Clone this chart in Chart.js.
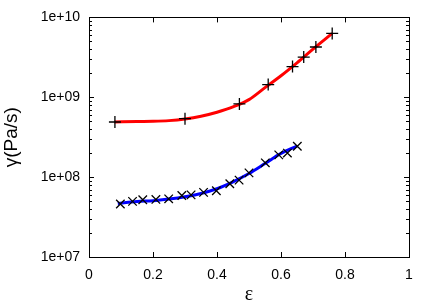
<!DOCTYPE html>
<html>
<head>
<meta charset="utf-8">
<script src="https://cdn.jsdelivr.net/npm/chart.js@4"></script>
<style>
  html, body { margin: 0; padding: 0; background: #fff; }
  #wrap { width: 436px; height: 305px; position: relative; }
</style>
</head>
<body>
<div id="wrap"><canvas id="c"></canvas></div>
<script>
// measured points (+ markers, upper set)
const redX = [0.081, 0.30, 0.47, 0.56, 0.636, 0.671, 0.709, 0.76];
const redY = [4.9e8, 5.4e8, 8.25e8, 1.44e9, 2.42e9, 3.19e9, 4.26e9, 6.3e9];
// measured points (x markers, lower set)
const blueX = [0.098, 0.136, 0.168, 0.209, 0.249, 0.29, 0.319, 0.358, 0.398, 0.44, 0.469, 0.50, 0.551, 0.593, 0.62, 0.651];
const blueY = [4.6e7, 4.97e7, 5.2e7, 5.26e7, 5.35e7, 5.9e7, 6.0e7, 6.44e7, 6.74e7, 8.25e7, 9.17e7, 1.13e8, 1.51e8, 1.9e8, 2.0e8, 2.44e8];
// fitted curves
const redFitX = [0.08, 0.15, 0.2, 0.25, 0.3, 0.35, 0.4, 0.45, 0.5, 0.55, 0.6, 0.65, 0.7, 0.76];
const redFitY = [4.9e8, 4.97e8, 5.0e8, 5.1e8, 5.35e8, 5.79e8, 6.5e8, 7.57e8, 9.35e8, 1.32e9, 1.86e9, 2.7e9, 4.0e9, 6.3e9];
const blueFitX = [0.09, 0.15, 0.2, 0.25, 0.3, 0.35, 0.4, 0.45, 0.5, 0.55, 0.6, 0.65];
const blueFitY = [4.69e7, 4.97e7, 5.06e7, 5.31e7, 5.68e7, 6.25e7, 7.15e7, 8.73e7, 1.11e8, 1.48e8, 1.98e8, 2.45e8];
// axes
const xTicks = [0, 0.2, 0.4, 0.6, 0.8, 1];
const yTicks = [1e7, 1e8, 1e9, 1e10];
const yTickLabels = ['1e+07', '1e+08', '1e+09', '1e+10'];
const yMinor = [2, 3, 4, 5, 6, 7, 8, 9];

const pts = (xs, ys) => xs.map((x, i) => ({ x: x, y: ys[i] }));

// gnuplot-like frame with inward ticks on all four sides
const framePlugin = {
    id: 'frame',
    afterDraw(chart) {
        const ctx = chart.ctx, a = chart.chartArea;
        const xs = chart.scales.x, ys = chart.scales.y;
        ctx.save();
        ctx.strokeStyle = '#000';
        ctx.lineWidth = 1;
        ctx.beginPath();
        for (const v of xTicks) {
            const px = Math.round(xs.getPixelForValue(v)) + 0.5;
            ctx.moveTo(px, a.bottom); ctx.lineTo(px, a.bottom - 5);
            ctx.moveTo(px, a.top); ctx.lineTo(px, a.top + 5);
        }
        for (let d = 0; d < yTicks.length; d++) {
            const py = Math.round(ys.getPixelForValue(yTicks[d])) + 0.5;
            ctx.moveTo(a.left, py); ctx.lineTo(a.left + 5, py);
            ctx.moveTo(a.right, py); ctx.lineTo(a.right - 5, py);
            if (d === yTicks.length - 1) break;
            for (const m of yMinor) {
                const my = Math.round(ys.getPixelForValue(yTicks[d] * m)) + 0.5;
                ctx.moveTo(a.left, my); ctx.lineTo(a.left + 3, my);
                ctx.moveTo(a.right, my); ctx.lineTo(a.right - 3, my);
            }
        }
        ctx.stroke();
        ctx.strokeRect(Math.round(a.left) + 0.5, Math.round(a.top) + 0.5,
            Math.round(a.right - a.left), Math.round(a.bottom - a.top));
        ctx.restore();
    }
};

new Chart(document.getElementById('c'), {
    type: 'scatter',
    data: {
        datasets: [
            { data: pts(redX, redY), pointStyle: 'cross', pointRadius: 6, pointBorderColor: '#000', pointBorderWidth: 1.3, showLine: false },
            { data: pts(blueX, blueY), pointStyle: 'crossRot', pointRadius: 6, pointBorderColor: '#000', pointBorderWidth: 1.3, showLine: false },
            { data: pts(redFitX, redFitY), showLine: true, borderColor: '#ff0000', borderWidth: 3, pointRadius: 0, cubicInterpolationMode: 'monotone' },
            { data: pts(blueFitX, blueFitY), showLine: true, borderColor: '#0000ff', borderWidth: 3, pointRadius: 0, cubicInterpolationMode: 'monotone' }
        ]
    },
    options: {
        responsive: true,
        maintainAspectRatio: false,
        animation: false,
        layout: { padding: { top: 17, right: 27, left: 0, bottom: 0 } },
        plugins: { legend: { display: false }, tooltip: { enabled: false } },
        scales: {
            x: {
                type: 'linear', min: 0, max: 1,
                grid: { display: false, drawTicks: false },
                border: { display: false },
                afterBuildTicks: s => { s.ticks = xTicks.map(v => ({ value: v })); },
                afterFit: s => { s.height = 48; },
                ticks: { color: '#000', padding: 10, maxRotation: 0, font: { family: 'Liberation Sans', size: 14 }, callback: v => String(v) },
                title: { display: true, text: 'ε', color: '#000', padding: 0, font: { family: 'Liberation Serif', size: 20, lineHeight: 1 } }
            },
            y: {
                type: 'logarithmic', min: 1e7, max: 1e10,
                grid: { display: false, drawTicks: false },
                border: { display: false },
                afterBuildTicks: s => { s.ticks = yTicks.map(v => ({ value: v })); },
                afterFit: s => { s.width = 89; },
                ticks: { color: '#000', padding: 9, font: { family: 'Liberation Sans', size: 14 },
                    callback: (v, i) => yTickLabels[yTicks.indexOf(v)] },
                title: { display: true, text: 'γ(Pa/s)', color: '#000', padding: { top: 2, bottom: 0 }, font: { family: 'Liberation Sans', size: 19, lineHeight: 1 } }
            }
        }
    },
    plugins: [framePlugin]
});
</script>
</body>
</html>
